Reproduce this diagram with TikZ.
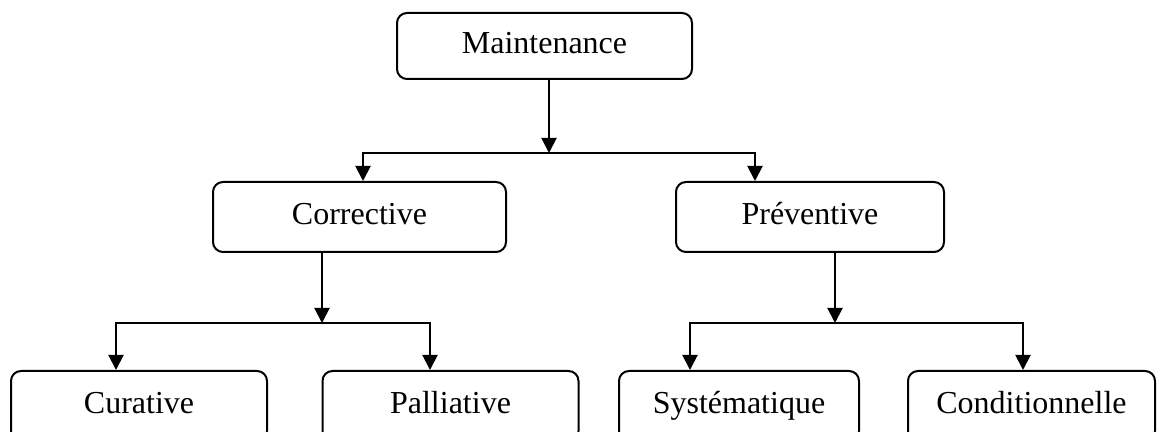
\documentclass[tikz,border=0pt]{standalone}
\usepackage{fontspec}
\setmainfont{Liberation Serif}
\usetikzlibrary{arrows.meta}
\tikzset{%
  >={Triangle[width=7.5pt,length=7.5pt]},
  % Specifications for style of nodes:
            base/.style = {rectangle, rounded corners=5pt, draw=black,
                           line width=1pt,
                           minimum height=35pt, inner sep=0pt,
                           text height=11pt, text depth=3pt,
                           font=\fontsize{16}{19}\selectfont},
           level/.style = {base, minimum width=128pt},
}

\begin{document}
\begin{tikzpicture}[x=0.5pt, y=0.5pt, line width=1pt]
  \useasboundingbox (0,0) rectangle (1158,432);
  \clip (0,0) rectangle (1158,432);

  \node(maint)       [base, minimum width=147.5pt, minimum height=33pt] at (544.5,386) {Maintenance};

  \node(corrective)  [base, minimum width=146.5pt] at (359.5,215) {Corrective};
  \node(preventive)  [base, minimum width=134pt]   at (810,215)   {Préventive};

  \node(curative)    [level]                       at (139,26)    {Curative};
  \node(palliative)  [level]                       at (450.5,26)  {Palliative};
  \node(systematic)  [level, minimum width=120pt]  at (739,26)    {Systématique};
  \node(conditional) [level, minimum width=123.5pt] at (1031.5,26) {Conditionnelle};

  % junctions of the connectors
  \coordinate (topJ)  at (549,279);
  \coordinate (topL)  at (363,279);
  \coordinate (topR)  at (755,279);
  \coordinate (corJ)  at (322,109);
  \coordinate (corL)  at (116,109);
  \coordinate (corR)  at (430,109);
  \coordinate (preJ)  at (835,109);
  \coordinate (preL)  at (690,109);
  \coordinate (preR)  at (1023,109);

  % Specification of lines between nodes specified above
  \draw[->]             (maint.south -| topJ) -- (topJ);
  \draw[->]             (topJ) -| (topL |- corrective.north);
  \draw[->]             (topJ) -| (topR |- preventive.north);

  \draw[->]             (corrective.south -| corJ) -- (corJ);
  \draw[->]             (corJ) -| (corL |- curative.north);
  \draw[->]             (corJ) -| (corR |- palliative.north);

  \draw[->]             (preventive.south -| preJ) -- (preJ);
  \draw[->]             (preJ) -| (preL |- systematic.north);
  \draw[->]             (preJ) -| (preR |- conditional.north);

\end{tikzpicture}
\end{document}
